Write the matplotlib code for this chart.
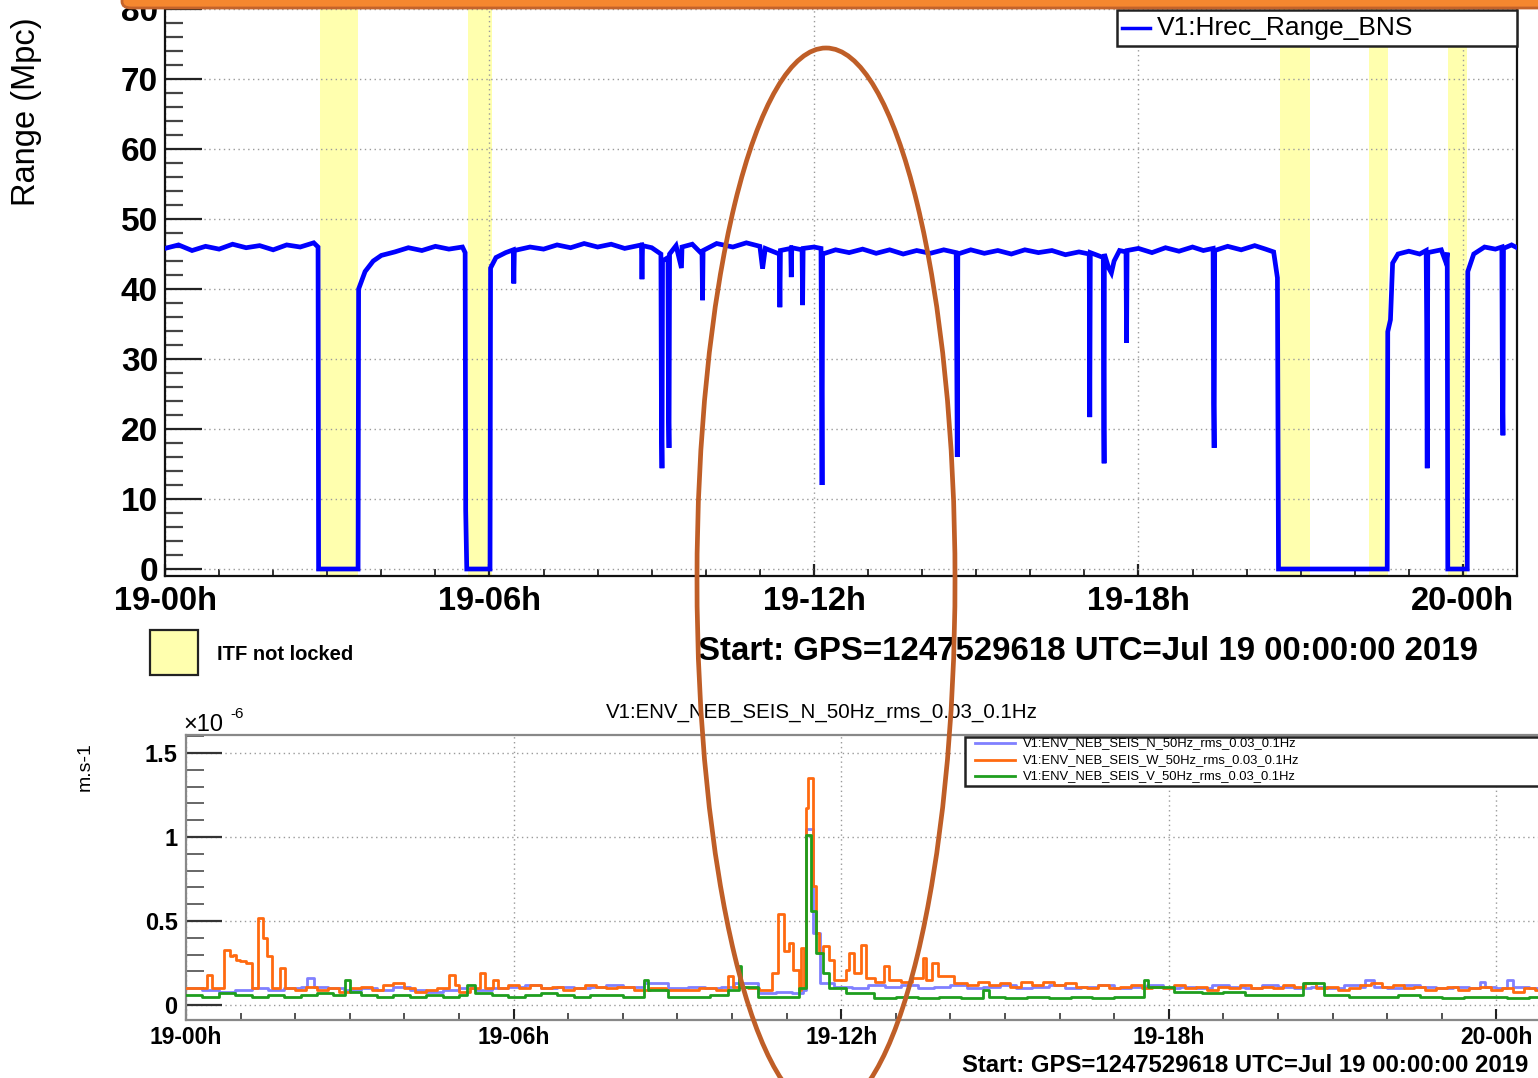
import matplotlib
matplotlib.use("Agg")
import matplotlib.pyplot as plt
from matplotlib.patches import Rectangle, Ellipse, FancyBboxPatch
from matplotlib.lines import Line2D
from matplotlib.ticker import MultipleLocator, FixedLocator

plt.rcParams['font.family'] = ['Liberation Sans', 'DejaVu Sans']

# ---------------- data ----------------
hour_ticks = [0, 6, 12, 18, 24]
hour_labels = ["19-00h", "19-06h", "19-12h", "19-18h", "20-00h"]

# ITF not locked periods (hours since 19 Jul 00:00 UTC)
unlock_start = [2.87, 5.60, 20.61, 22.27, 23.72]
unlock_end = [3.57, 6.04, 21.18, 22.61, 24.07]

# BNS range (Mpc)
range_hours = [
    0.0, 0.25, 0.5, 0.75, 1.0, 1.25, 1.5, 1.75, 2.0, 2.25,
    2.5, 2.75, 2.83, 2.84, 3.57, 3.58, 3.7, 3.85, 4.0, 4.25,
    4.5, 4.75, 5.0, 5.25, 5.5, 5.55, 5.56, 5.58, 6.01, 6.02,
    6.12, 6.3, 6.44, 6.45, 6.46, 6.75, 7.0, 7.25, 7.5, 7.75,
    8.0, 8.25, 8.5, 8.81, 8.82, 8.83, 9.0, 9.17, 9.18, 9.19,
    9.20, 9.30, 9.31, 9.32, 9.33, 9.45, 9.55, 9.56, 9.75, 9.93,
    9.94, 9.95, 10.2, 10.5, 10.75, 11.0, 11.05, 11.1, 11.36, 11.37,
    11.38, 11.57, 11.58, 11.59, 11.78, 11.79, 11.80, 12.0, 12.13, 12.14,
    12.15, 12.16, 12.4, 12.65, 12.9, 13.15, 13.4, 13.65, 13.9, 14.15,
    14.4, 14.63, 14.64, 14.65, 14.66, 14.9, 15.15, 15.4, 15.65, 15.9,
    16.15, 16.4, 16.65, 16.9, 17.09, 17.10, 17.11, 17.35, 17.36, 17.365,
    17.37, 17.45, 17.5, 17.55, 17.65, 17.77, 17.78, 17.79, 18.0, 18.25,
    18.5, 18.75, 19.0, 19.2, 19.38, 19.39, 19.40, 19.41, 19.65, 19.9,
    20.15, 20.35, 20.5, 20.57, 20.59, 22.60, 22.61, 22.66, 22.70, 22.8,
    23.0, 23.2, 23.32, 23.33, 23.34, 23.35, 23.6, 23.69, 23.71, 23.72,
    24.08, 24.09, 24.2, 24.4, 24.6, 24.72, 24.73, 24.74, 24.75, 24.9,
    25.0,
]
range_mpc = [
    45.8, 46.3, 45.5, 46.1, 45.7, 46.4, 45.9, 46.2, 45.6, 46.3,
    46.0, 46.6, 46.0, 0.0, 0.0, 40.0, 42.5, 44.0, 44.8, 45.3,
    45.9, 45.5, 46.1, 45.7, 46.0, 45.2, 8.4, 0.0, 0.0, 43.0,
    44.5, 45.2, 45.6, 40.8, 45.5, 46.0, 45.7, 46.3, 45.9, 46.5,
    46.0, 46.4, 45.8, 46.3, 41.4, 46.2, 45.9, 45.0, 20.6, 14.4,
    44.0, 44.5, 22.4, 17.3, 45.0, 46.2, 43.0, 46.0, 46.4, 45.0,
    38.4, 45.5, 46.5, 46.0, 46.6, 46.1, 42.9, 45.8, 45.0, 37.4,
    45.5, 45.8, 41.7, 45.9, 45.6, 37.7, 45.8, 46.0, 45.8, 28.4,
    12.0, 45.0, 45.6, 45.2, 45.7, 45.1, 45.6, 45.0, 45.5, 45.1,
    45.6, 45.2, 30.8, 16.0, 45.0, 45.6, 45.1, 45.5, 45.0, 45.6,
    45.2, 45.5, 44.9, 45.3, 45.0, 21.7, 45.2, 44.5, 20.0, 15.1,
    45.0, 43.0, 42.3, 44.0, 45.5, 45.3, 32.3, 45.5, 45.8, 45.2,
    45.9, 45.4, 46.0, 45.5, 45.8, 23.7, 17.3, 45.5, 46.1, 45.6,
    46.2, 45.7, 45.3, 41.6, 0.0, 0.0, 33.9, 35.6, 43.7, 45.0,
    45.4, 45.0, 45.5, 34.9, 14.4, 45.2, 45.6, 43.7, 45.2, 0.0,
    0.0, 42.5, 45.0, 46.0, 45.7, 46.0, 25.1, 19.1, 45.8, 46.3,
    45.9,
]

# Seismic rms 0.03-0.1 Hz (units of 1e-6 m/s), step start times in hours
seis_n_hours = [
    0.0, 0.3, 0.6, 0.9, 1.2, 1.5, 1.8, 2.1, 2.22, 2.34,
    2.6, 2.9, 3.2, 3.5, 3.8, 4.1, 4.4, 4.7, 5.0, 5.3,
    5.6, 5.9, 6.2, 6.5, 6.8, 7.1, 7.4, 7.7, 8.0, 8.39,
    8.82, 9.2, 9.5, 9.8, 10.04, 10.47, 10.8, 11.1, 11.30, 11.36,
    11.48, 11.62, 11.87, 12.2, 12.5, 12.8, 13.1, 13.4, 13.7, 14.0,
    14.3, 14.6, 14.9, 15.2, 15.5, 15.8, 16.1, 16.4, 16.7, 17.0,
    17.3, 17.6, 17.9, 18.2, 18.5, 18.8, 19.1, 19.4, 19.7, 20.0,
    20.3, 20.6, 20.9, 21.2, 21.5, 21.6, 21.75, 22.0, 22.3, 22.6,
    22.9, 23.2, 23.5, 23.7, 23.8, 24.0, 24.2, 24.3, 24.6,
]
seis_n = [
    .10, .09, .08, .09, .10, .09, .10, .11, .16, .11,
    .10, .09, .10, .09, .11, .09, .08, .09, .10, .09,
    .10, .11, .12, .10, .11, .10, .11, .12, .11, .13,
    .10, .11, .10, .11, .13, .07, .08, .07, .09, 1.05,
    .43, .13, .11, .10, .12, .11, .12, .10, .11, .12,
    .10, .11, .12, .10, .11, .12, .10, .11, .12, .10,
    .11, .12, .10, .11, .10, .12, .11, .10, .12, .11,
    .10, .11, .10, .12, .11, .15, .11, .10, .12, .11,
    .10, .11, .10, .14, .11, .10, .15, .11, .10,
]

seis_w_hours = [
    0.0, 0.38, 0.48, 0.70, 0.80, 0.86, 0.92, 0.98, 1.10, 1.20,
    1.32, 1.41, 1.48, 1.58, 1.72, 1.82, 2.0, 2.2, 2.4, 2.6,
    2.8, 3.0, 3.2, 3.4, 3.6, 3.8, 4.0, 4.2, 4.4, 4.6,
    4.82, 4.92, 5.0, 5.2, 5.38, 5.48, 5.62, 5.72, 5.9, 6.1,
    6.3, 6.5, 6.7, 6.9, 7.1, 7.3, 7.5, 7.7, 7.9, 8.2,
    8.5, 8.8, 9.1, 9.4, 9.7, 9.92, 10.01, 10.3, 10.5, 10.73,
    10.84, 10.95, 11.05, 11.12, 11.23, 11.26, 11.32, 11.36, 11.40, 11.48,
    11.54, 11.60, 11.66, 11.78, 11.87, 12.09, 12.15, 12.24, 12.36, 12.45,
    12.61, 12.79, 12.88, 13.1, 13.3, 13.49, 13.55, 13.67, 13.77, 14.07,
    14.3, 14.5, 14.7, 14.9, 15.1, 15.3, 15.5, 15.7, 15.9, 16.1,
    16.3, 16.5, 16.7, 16.9, 17.1, 17.3, 17.5, 17.7, 17.9, 18.1,
    18.3, 18.5, 18.7, 18.9, 19.1, 19.3, 19.5, 19.7, 19.9, 20.1,
    20.3, 20.5, 20.7, 20.9, 21.1, 21.3, 21.5, 21.7, 21.9, 22.1,
    22.3, 22.5, 22.7, 22.9, 23.1, 23.3, 23.5, 23.7, 23.9, 24.1,
    24.3, 24.5, 24.7,
]
seis_w = [
    .10, .18, .10, .33, .29, .30, .27, .26, .25, .10,
    .52, .40, .29, .10, .22, .10, .09, .11, .09, .10,
    .08, .10, .11, .09, .12, .13, .10, .08, .09, .10,
    .18, .12, .08, .10, .19, .10, .15, .10, .12, .10,
    .12, .10, .11, .09, .10, .12, .11, .10, .11, .09,
    .10, .09, .09, .10, .09, .17, .11, .10, .09, .19,
    .54, .32, .37, .21, .09, .34, .11, 1.17, 1.35, .71,
    .43, .31, .35, .27, .15, .21, .31, .19, .36, .16,
    .14, .23, .15, .14, .16, .28, .15, .25, .17, .13,
    .12, .14, .12, .13, .11, .14, .12, .14, .12, .13,
    .11, .10, .12, .10, .11, .12, .10, .11, .10, .12,
    .10, .11, .09, .11, .10, .12, .10, .11, .10, .12,
    .11, .13, .10, .11, .09, .10, .12, .13, .11, .12,
    .10, .11, .09, .10, .11, .09, .10, .11, .09, .10,
    .08, .10, .09,
]

seis_v_hours = [
    0.0, 0.3, 0.6, 0.9, 1.2, 1.5, 1.8, 2.1, 2.4, 2.7,
    2.92, 3.0, 3.2, 3.5, 3.8, 4.1, 4.4, 4.7, 5.0, 5.15,
    5.3, 5.6, 5.9, 6.2, 6.5, 6.8, 7.1, 7.4, 7.7, 8.0,
    8.39, 8.47, 8.82, 9.2, 9.6, 9.92, 10.13, 10.16, 10.47, 11.23,
    11.36, 11.45, 11.54, 11.66, 11.78, 12.09, 12.6, 13.0, 13.4, 13.8,
    14.2, 14.6, 14.7, 15.0, 15.4, 15.8, 16.2, 16.6, 17.0, 17.55,
    17.62, 18.1, 18.6, 19.0, 19.4, 19.9, 20.46, 20.85, 21.3, 21.8,
    22.2, 22.6, 23.0, 23.4, 23.8, 24.2, 24.6,
]
seis_v = [
    .06, .05, .07, .06, .05, .06, .05, .06, .07, .06,
    .15, .08, .06, .05, .06, .05, .06, .05, .06, .12,
    .07, .06, .05, .06, .07, .06, .05, .06, .06, .05,
    .15, .09, .05, .05, .06, .09, .23, .11, .05, .10,
    1.01, .56, .31, .19, .10, .07, .04, .05, .04, .05,
    .04, .09, .05, .04, .05, .04, .05, .04, .05, .15,
    .11, .08, .07, .08, .06, .06, .13, .06, .05, .05,
    .06, .05, .04, .05, .05, .04, .05,
]

seis_names = ["V1:ENV_NEB_SEIS_N_50Hz_rms_0.03_0.1Hz",
              "V1:ENV_NEB_SEIS_W_50Hz_rms_0.03_0.1Hz",
              "V1:ENV_NEB_SEIS_V_50Hz_rms_0.03_0.1Hz"]
start_text = "Start: GPS=1247529618 UTC=Jul 19 00:00:00 2019"

# ---------------- figure ----------------
W, H = 1538, 1078
fig = plt.figure(figsize=(W / 100, H / 100), dpi=100)
fig.patch.set_facecolor("white")


def fx(x):
    return x / W


def fy(y):
    return 1 - y / H


def add_axes_px(left, top, right, bottom):
    return fig.add_axes([fx(left), fy(bottom), (right - left) / W, (bottom - top) / H])


grid_kw = dict(color="#9a9a9a", linestyle=(0, (1, 2.5)), linewidth=1.0)

# ---------- top panel ----------
ax1 = add_axes_px(165, 0, 1517, 576)
ax1.set_xlim(0, 25)
ax1.set_ylim(-1, 81.29)
for s, e in zip(unlock_start, unlock_end):
    ax1.axvspan(s, e, color="#FFFFAE", zorder=0.2, linewidth=0)
ax1.set_axisbelow(True)
ax1.plot(range_hours, range_mpc, color="#0000FF", linewidth=3.4, zorder=3,
         solid_joinstyle="miter")
ax1.xaxis.set_major_locator(FixedLocator(hour_ticks))
ax1.set_xticklabels(hour_labels)
ax1.xaxis.set_minor_locator(MultipleLocator(1))
ax1.yaxis.set_major_locator(MultipleLocator(10))
ax1.yaxis.set_minor_locator(MultipleLocator(2))
ax1.grid(True, which="major", **grid_kw)
ax1.tick_params(axis="y", which="major", direction="in", length=26.5, width=1.6,
                color="#222222", labelsize=24, pad=5)
ax1.tick_params(axis="y", which="minor", direction="in", length=13, width=1.6,
                color="#444444")
ax1.tick_params(axis="x", which="major", direction="in", length=9, width=1.6,
                color="#222222", labelsize=23.5, pad=7)
ax1.tick_params(axis="x", which="minor", direction="in", length=5, width=1.4,
                color="#333333")
for lab in ax1.get_xticklabels() + ax1.get_yticklabels():
    lab.set_fontweight("bold")
for sp in ["left", "bottom", "right"]:
    ax1.spines[sp].set_color("#111111")
    ax1.spines[sp].set_linewidth(1.6)
ax1.spines["top"].set_visible(False)

fig.text(fx(27), fy(112), "Range (Mpc)", rotation=90, fontsize=23.5,
         ha="center", va="center")
fig.text(fx(1478), fy(651), start_text, fontsize=23.8, fontweight="bold",
         ha="right", va="center")

# top legend (manual box)
fig.add_artist(Rectangle((fx(1117), fy(46)), (1517 - 1117) / W, 36 / H,
                         transform=fig.transFigure, facecolor="white",
                         edgecolor="#222222", linewidth=1.8, zorder=5))
fig.add_artist(Line2D([fx(1122), fx(1150)], [fy(28), fy(28)], color="#0000FF",
                      linewidth=2.5, transform=fig.transFigure, zorder=6))
fig.text(fx(1157), fy(28), "V1:Hrec_Range_BNS", fontsize=19, ha="left",
         va="center", zorder=6)

# ITF legend
fig.add_artist(Rectangle((fx(150), fy(675)), 48 / W, 45 / H,
                         transform=fig.transFigure, facecolor="#FFFFAE",
                         edgecolor="#222222", linewidth=1.6))
fig.text(fx(217), fy(654), "ITF not locked", fontsize=14.5, fontweight="bold",
         ha="left", va="center")

# ---------- bottom panel ----------
ax2 = add_axes_px(186, 735, 1551, 1020)
ax2.set_xlim(0, 25)
ax2.set_ylim(-0.089, 1.607)
ax2.set_axisbelow(True)
series = [(seis_n_hours, seis_n, "#8080FF"),
          (seis_w_hours, seis_w, "#FF6A10"),
          (seis_v_hours, seis_v, "#1E9E1E")]
for t, v, c in series:
    ax2.step(list(t) + [25.0], list(v) + [v[-1]], where="post", color=c,
             linewidth=2.0, zorder=3)
ax2.xaxis.set_major_locator(FixedLocator(hour_ticks))
ax2.set_xticklabels(hour_labels)
ax2.xaxis.set_minor_locator(MultipleLocator(1))
ax2.yaxis.set_major_locator(FixedLocator([0, 0.5, 1.0, 1.5]))
ax2.set_yticklabels(["0", "0.5", "1", "1.5"])
ax2.yaxis.set_minor_locator(MultipleLocator(0.1))
ax2.grid(True, which="major", **grid_kw)
ax2.tick_params(axis="y", which="major", direction="in", length=26, width=1.6,
                color="#333333", labelsize=17, pad=6)
ax2.tick_params(axis="y", which="minor", direction="in", length=13, width=1.4,
                color="#666666")
ax2.tick_params(axis="x", which="major", direction="in", length=8, width=1.5,
                color="#222222", labelsize=16.5, pad=4)
ax2.tick_params(axis="x", which="minor", direction="in", length=5, width=1.3,
                color="#444444")
for lab in ax2.get_xticklabels() + ax2.get_yticklabels():
    lab.set_fontweight("bold")
for sp in ["left", "bottom", "top"]:
    ax2.spines[sp].set_color("#888888")
    ax2.spines[sp].set_linewidth(1.6)
ax2.spines["right"].set_visible(False)

fig.text(fx(822), fy(712), seis_names[0], fontsize=14.8, ha="center", va="center")
fig.text(fx(85), fy(767), "m.s-1", rotation=90, fontsize=14, ha="center", va="center")
fig.text(fx(183), fy(725), "\u00d710", fontsize=17, ha="left", va="center")
fig.text(fx(230), fy(714), "-6", fontsize=11, ha="left", va="center")
fig.text(fx(1528), fy(1065), start_text, fontsize=17.2, fontweight="bold",
         ha="right", va="center")

# bottom legend (manual box)
fig.add_artist(Rectangle((fx(965), fy(786)), (1560 - 965) / W, 49 / H,
                         transform=fig.transFigure, facecolor="white",
                         edgecolor="#222222", linewidth=1.8, zorder=5))
for (t, v, c), name, yy in zip(series, seis_names, [743, 760, 776]):
    fig.add_artist(Line2D([fx(975), fx(1015)], [fy(yy), fy(yy)], color=c,
                          linewidth=2, transform=fig.transFigure, zorder=6))
    fig.text(fx(1023), fy(yy), name, fontsize=9.4, ha="left", va="center",
             zorder=6)

# ---------- annotations ----------
fig.add_artist(FancyBboxPatch((fx(122), fy(8)), (1600 - 122) / W, 40 / H,
                              boxstyle="round,pad=0,rounding_size=0.006",
                              transform=fig.transFigure, facecolor="#F5872F",
                              edgecolor="#C4632A", linewidth=2, zorder=20))
fig.add_artist(Ellipse((fx(826), fy(580)), 258 / W, 1064 / H,
                       transform=fig.transFigure, facecolor="none",
                       edgecolor="#BF5E27", linewidth=3.4, zorder=21))

fig.savefig("out.png", dpi=100)
